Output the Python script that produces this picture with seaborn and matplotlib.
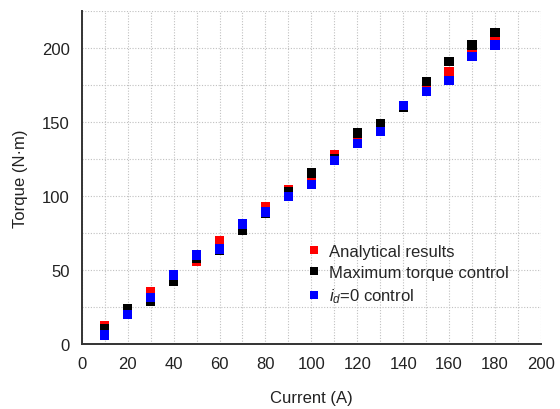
import numpy as np
import pandas as pd
import matplotlib
matplotlib.use("Agg")
import matplotlib.pyplot as plt
import seaborn as sns
from matplotlib.ticker import MultipleLocator

# current values (A)
current = [10, 20, 30, 40, 50, 60, 70, 80, 90, 100, 110, 120, 130, 140, 150, 160, 170, 180]

# torque (N·m)
analytical = [12.5, 22, 35.5, 46, 56, 69.5, 80, 92.5, 104.5, 110, 127.5, 139, 146, 161, 174, 184, 197, 206]
max_torque = [10, 23.5, 28.5, 42, 58, 63, 77, 88, 103, 115.5, 125, 142.5, 148.5, 160, 177.5, 191, 202, 210.5]
id_zero = [6, 20, 31.5, 46.5, 60, 64, 81, 89, 99.5, 107.5, 124, 135.5, 143.5, 161, 170.5, 178, 194, 202]

labels = ["Analytical results", "Maximum torque control", "$i_d$=0 control"]
colors = ["#ff0000", "#000000", "#0000ff"]

df = pd.concat([
    pd.DataFrame({"current": current, "torque": analytical, "series": labels[0]}),
    pd.DataFrame({"current": current, "torque": max_torque, "series": labels[1]}),
    pd.DataFrame({"current": current, "torque": id_zero, "series": labels[2]}),
], ignore_index=True)

sns.set_style("white")
plt.rcParams["font.family"] = ["Liberation Sans", "DejaVu Sans"]
plt.rcParams["mathtext.fontset"] = "custom"
plt.rcParams["mathtext.it"] = "Liberation Sans:italic"
plt.rcParams["mathtext.rm"] = "Liberation Sans"

fig = plt.figure(figsize=(5.6, 4.1), dpi=100)
ax = fig.add_axes([0.146, 0.159, 0.820, 0.812])

sns.scatterplot(data=df, x="current", y="torque", hue="series", palette=colors,
                marker="s", s=45, linewidth=0, ax=ax, zorder=3)

ax.set_xlim(0, 200)
ax.set_ylim(0, 225)
ax.xaxis.set_major_locator(MultipleLocator(20))
ax.xaxis.set_minor_locator(MultipleLocator(10))
ax.yaxis.set_major_locator(MultipleLocator(50))
ax.yaxis.set_minor_locator(MultipleLocator(25))

ax.grid(True, which="both", color="#c0c0c0", linestyle=(0, (1, 1.5)), linewidth=0.8)
for s in ["top", "right"]:
    ax.spines[s].set_visible(False)
for s in ["left", "bottom"]:
    ax.spines[s].set_color("#333333")
    ax.spines[s].set_linewidth(1.4)

ax.tick_params(which="major", direction="out", length=5, width=1.2, color="#333333",
               labelsize=12, labelcolor="#222222")
ax.tick_params(which="minor", direction="out", length=3, width=1.0, color="#333333")

ax.set_xlabel("Current (A)", fontsize=12, color="#222222", labelpad=14)
ax.set_ylabel("Torque (N·m)", fontsize=12, color="#222222", labelpad=10)

handles, _ = ax.get_legend_handles_labels()
ax.legend(handles, labels, frameon=False, fontsize=12, loc="upper left",
          bbox_to_anchor=(0.455, 0.345), handletextpad=0.4, labelspacing=0.38,
          markerscale=0.9, handlelength=1.0)

fig.savefig("out.png", dpi=100)
